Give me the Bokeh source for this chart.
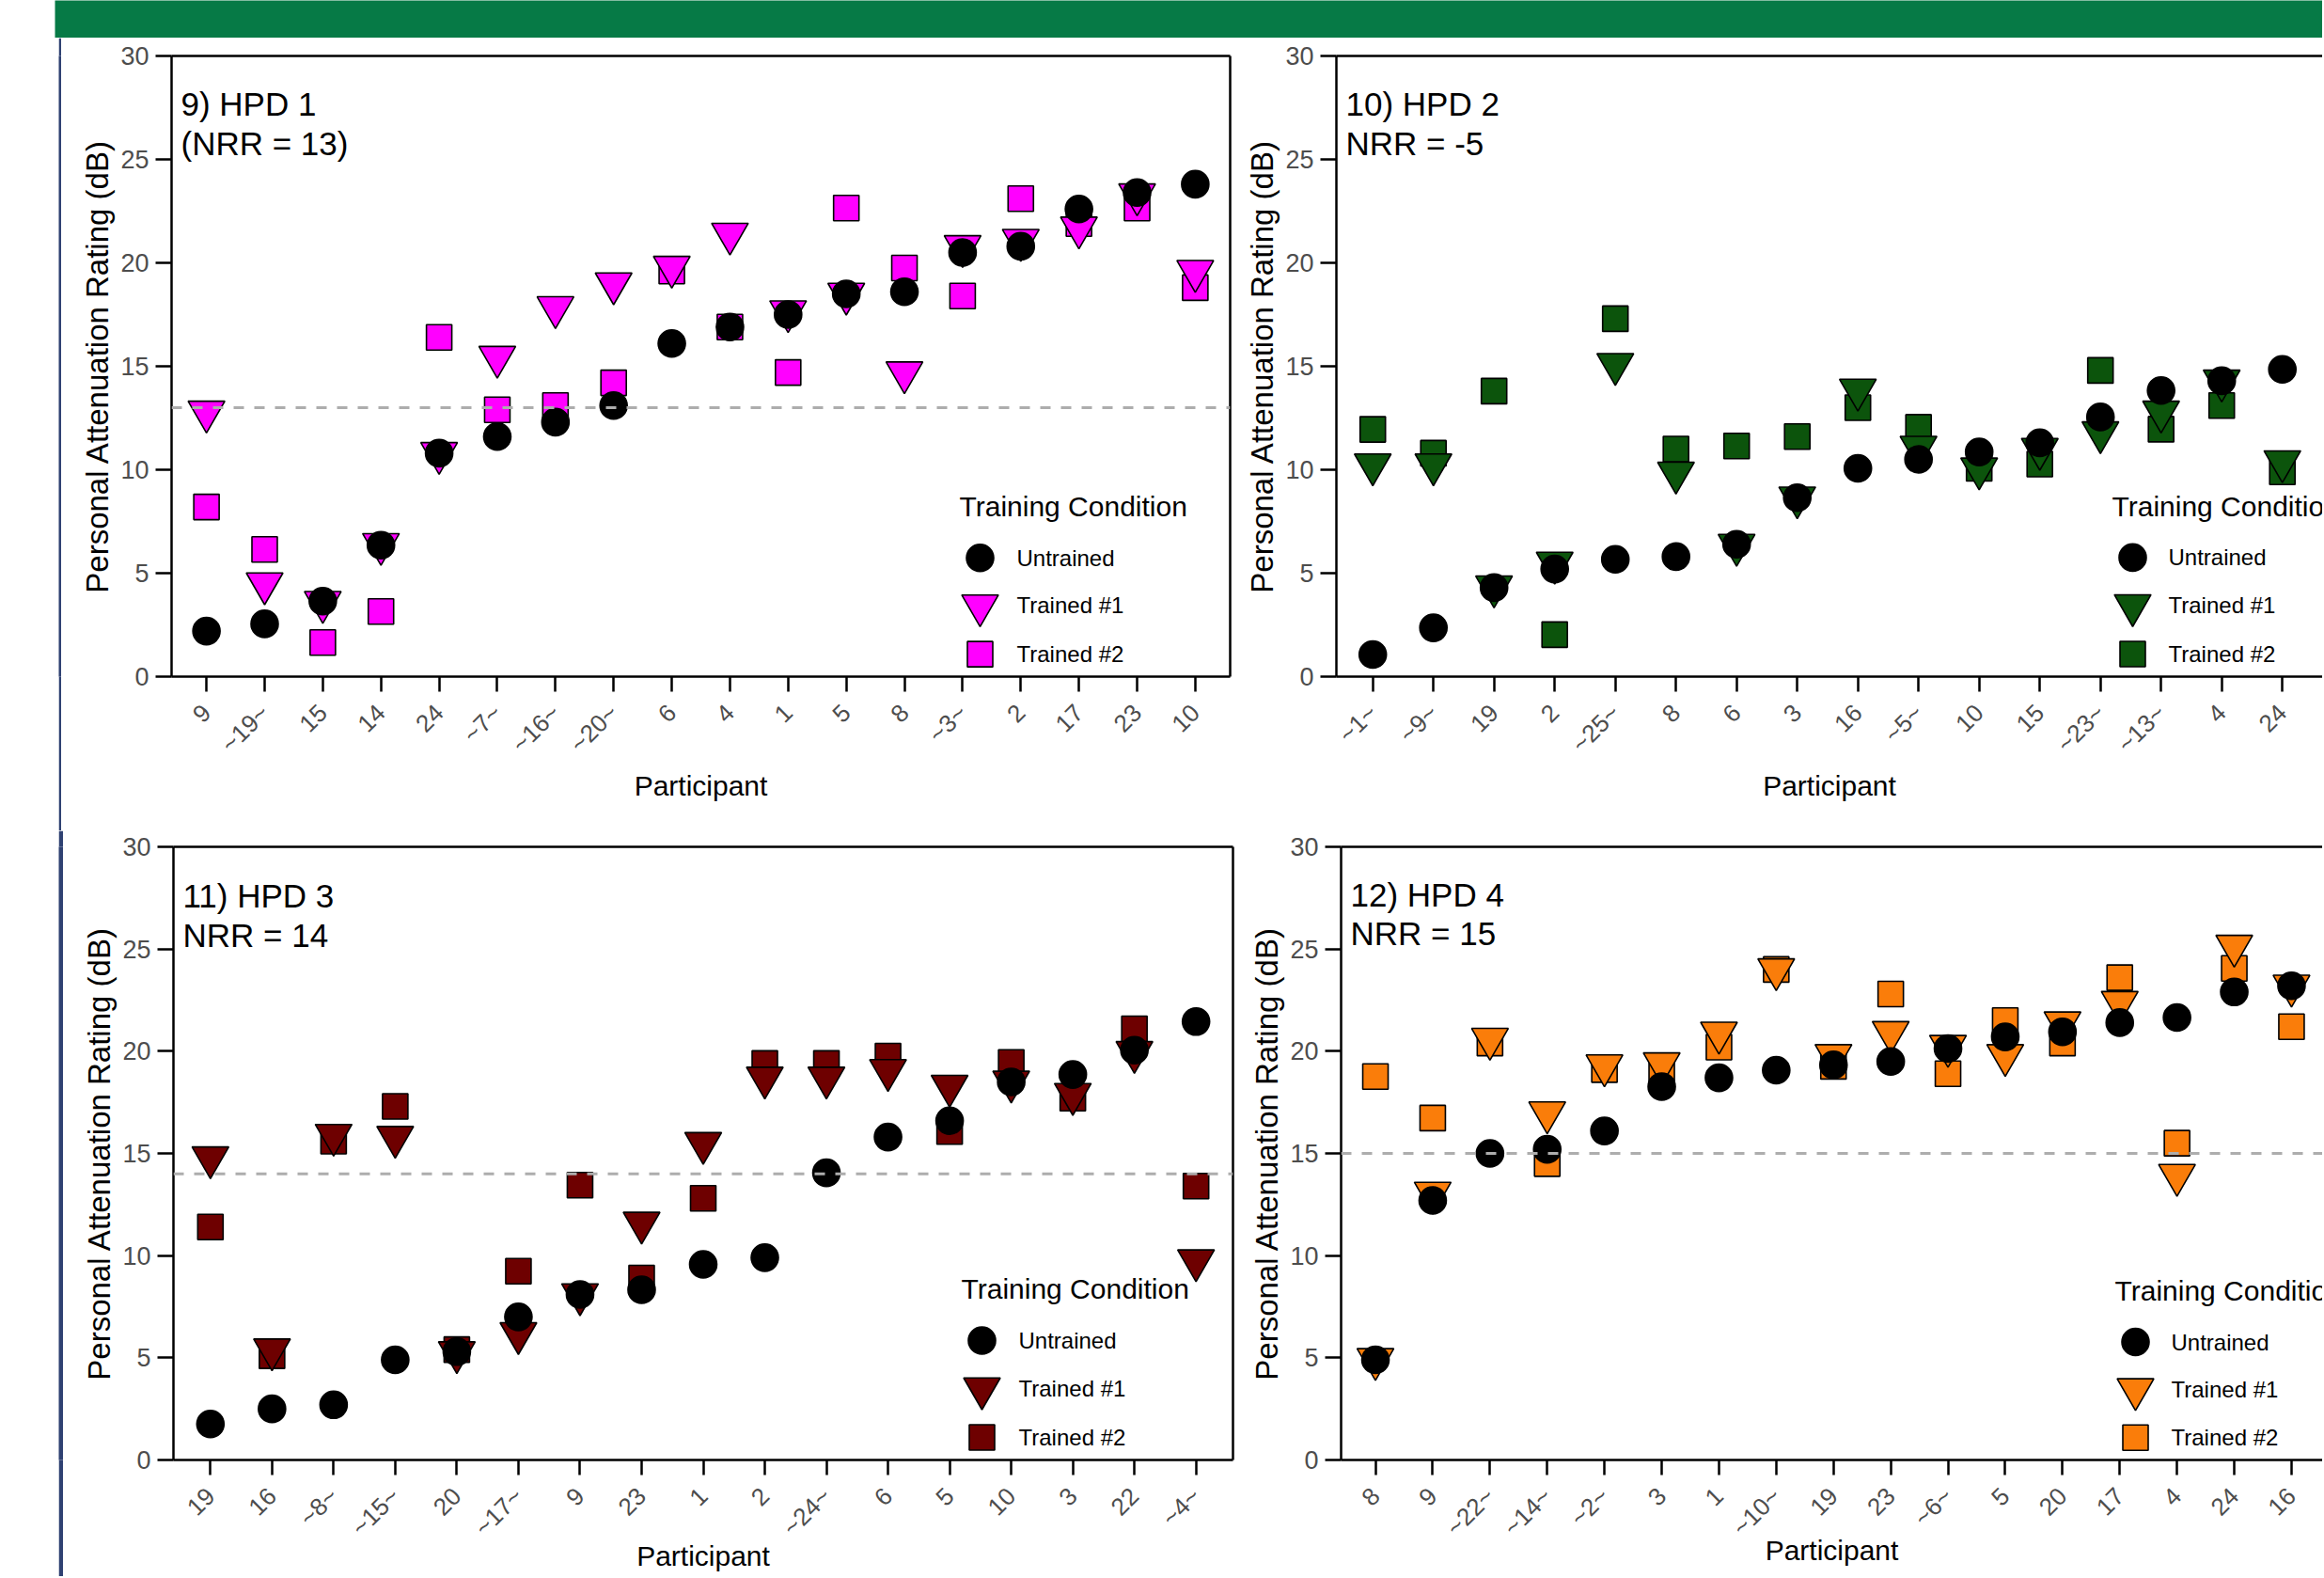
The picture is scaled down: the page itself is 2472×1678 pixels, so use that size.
import math
from bokeh.plotting import figure
from bokeh.models import Range1d, FixedTicker, LinearAxis, Span, Label, Spacer
from bokeh.layouts import row, column
from bokeh.embed import file_html
from bokeh.resources import INLINE

# ---------------- data ----------------
y_ticks = [0, 5, 10, 15, 20, 25, 30]
legend_title = "Training Condition"
legend_labels = ["Untrained", "Trained #1", "Trained #2"]
x_title = "Participant"
y_title = "Personal Attenuation Rating (dB)"

hpd1_participants = ["9", "~19~", "15", "14", "24", "~7~", "~16~", "~20~", "6", "4",
                     "1", "5", "8", "~3~", "2", "17", "23", "10"]
hpd1_untrained = [2.2, 2.55, 3.65, 6.35, 10.8, 11.6, 12.3, 13.1, 16.1, 16.9,
                  17.5, 18.5, 18.6, 20.5, 20.8, 22.6, 23.4, 23.8]
hpd1_trained1 = [12.8, 4.5, 3.6, 6.4, 10.8, 15.45, 17.85, 19.0, 19.8, 21.4,
                 17.65, 18.5, 14.7, 20.8, 21.1, 21.7, 23.3, 19.6]
hpd1_trained2 = [8.2, 6.15, 1.65, 3.15, 16.4, 12.9, 13.1, 14.2, 19.6, 16.9,
                 14.7, 22.65, 19.75, 18.4, 23.1, 21.9, 22.65, 18.8]

hpd2_participants = ["~1~", "~9~", "19", "2", "~25~", "8", "6", "3", "16", "~5~",
                     "10", "15", "~23~", "~13~", "4", "24"]
hpd2_untrained = [1.07, 2.36, 4.3, 5.2, 5.67, 5.8, 6.4, 8.65, 10.07, 10.5,
                  10.86, 11.3, 12.55, 13.83, 14.3, 14.85]
hpd2_trained1 = [10.25, 10.25, 4.35, 5.5, 15.1, 9.85, 6.36, 8.65, 13.86, 11.1,
                 10.05, 11.0, 11.8, 12.8, 14.3, 10.4]
hpd2_trained2 = [11.95, 10.8, 13.8, 2.03, 17.3, 11.0, 11.15, 11.6, 13.0, 12.05,
                 10.07, 10.27, 14.8, 11.96, 13.1, 9.9]

hpd3_participants = ["19", "16", "~8~", "~15~", "20", "~17~", "9", "23", "1", "2",
                     "~24~", "6", "5", "10", "3", "22", "~4~"]
hpd3_untrained = [1.76, 2.5, 2.7, 4.9, 5.3, 7.0, 8.1, 8.33, 9.57, 9.9,
                  14.05, 15.8, 16.6, 18.5, 18.86, 20.05, 21.45]
hpd3_trained1 = [14.8, 5.4, 15.9, 15.8, 5.26, 6.2, 8.1, 11.6, 15.5, 18.7,
                 18.7, 19.07, 18.3, 18.5, 17.9, 19.95, 9.76]
hpd3_trained2 = [11.4, 5.1, 15.6, 17.3, 5.4, 9.24, 13.45, 8.9, 12.8, 19.4,
                 19.4, 19.76, 16.07, 19.45, 17.7, 21.1, 13.4]

hpd4_participants = ["8", "9", "~22~", "~14~", "~2~", "3", "1", "~10~", "19", "23",
                     "~6~", "5", "20", "17", "4", "24", "16"]
hpd4_untrained = [4.9, 12.7, 15.0, 15.2, 16.1, 18.27, 18.7, 19.07, 19.33, 19.5,
                  20.13, 20.7, 20.95, 21.4, 21.65, 22.9, 23.2]
hpd4_trained1 = [4.93, 13.07, 20.6, 17.0, 19.3, 19.4, 20.9, 24.0, 19.8, 20.93,
                 20.25, 19.8, 21.4, 22.4, 13.94, 25.15, 23.2]
hpd4_trained2 = [18.76, 16.73, 20.4, 14.5, 19.1, 18.8, 20.2, 24.0, 19.26, 22.8,
                 18.9, 21.5, 20.4, 23.6, 15.5, 24.05, 21.2]

panel_titles = ["9) HPD 1", "10) HPD 2", "11) HPD 3", "12) HPD 4"]
panel_nrr_texts = ["(NRR = 13)", "NRR = -5", "NRR = 14", "NRR = 15"]
panel_nrr = [13, -5, 14, 15]

# ---------------- styles ----------------
FONT = "Liberation Sans"
TICK_GRAY = "#4d4d4d"
GREEN_BAND = "#067a46"
BLUE_LINE = "#2f4172"
panel_colors = ["#ff00ff", "#0c540c", "#6e0000", "#fa7d0a"]

# layout per panel (figure size, borders, x-range end, legend offsets, x-title standoff)
layouts = [
    dict(w=1253, h=843, mbl=117, mbr=10, mbt=19, mbb=160, x_end=18.6, right=True,
         lg=(838, 860, 899), xls=-1),
    dict(w=1152, h=843, mbl=103, mbr=0, mbt=17, mbb=164, x_end=0.4 + 1049 / 64.5, right=False,
         lg=(825, 847, 885), xls=-1),
    dict(w=1255, h=793, mbl=117, mbr=11, mbt=17, mbb=124, x_end=17.6, right=True,
         lg=(838, 860, 899), xls=-15),
    dict(w=1148, h=793, mbl=104, mbr=0, mbt=13, mbb=120, x_end=0.4 + 1044 / 60.9, right=False,
         lg=(823, 845, 883), xls=-21),
]


def border_axis():
    return LinearAxis(ticker=FixedTicker(ticks=[]), axis_line_width=2.5, axis_line_color="black",
                      major_tick_line_color=None, minor_tick_line_color=None,
                      major_label_text_font_size="0px", major_label_standoff=0)


def make_panel(participants, untrained, trained1, trained2, color, title, nrr_text, nrr, lay):
    n = len(participants)
    xs = list(range(1, n + 1))
    fw = lay["w"] - lay["mbl"] - lay["mbr"]
    fh = lay["h"] - lay["mbt"] - lay["mbb"]
    x0, x1 = 0.4, lay["x_end"]
    xpp = (x1 - x0) / fw
    ypp = 30.0 / fh

    p = figure(width=lay["w"], height=lay["h"], x_range=Range1d(x0, x1), y_range=Range1d(0, 30),
               toolbar_location=None, output_backend="svg",
               min_border_left=lay["mbl"], min_border_right=lay["mbr"],
               min_border_top=lay["mbt"], min_border_bottom=lay["mbb"])
    p.outline_line_color = None
    p.xgrid.visible = False
    p.ygrid.visible = False

    xa = p.xaxis[0]
    xa.ticker = FixedTicker(ticks=xs)
    xa.major_label_overrides = {i: lab for i, lab in zip(xs, participants)}
    xa.major_label_orientation = math.pi / 4
    xa.major_label_text_font = FONT
    xa.major_label_text_font_size = "26px"
    xa.major_label_text_color = TICK_GRAY
    xa.major_label_standoff = 18
    xa.major_tick_out = 16
    xa.major_tick_in = 0
    xa.major_tick_line_width = 2.5
    xa.major_tick_line_color = "black"
    xa.minor_tick_line_color = None
    xa.axis_line_width = 2.5
    xa.axis_line_color = "black"
    xa.axis_label = x_title
    xa.axis_label_text_font = FONT
    xa.axis_label_text_font_size = "30px"
    xa.axis_label_text_font_style = "normal"
    xa.axis_label_text_color = "black"
    xa.axis_label_standoff = lay["xls"]

    ya = p.yaxis[0]
    ya.ticker = FixedTicker(ticks=y_ticks)
    ya.major_label_text_font = FONT
    ya.major_label_text_font_size = "27px"
    ya.major_label_text_color = TICK_GRAY
    ya.major_label_standoff = 7
    ya.major_tick_out = 17
    ya.major_tick_in = 0
    ya.major_tick_line_width = 2.5
    ya.major_tick_line_color = "black"
    ya.minor_tick_line_color = None
    ya.axis_line_width = 2.5
    ya.axis_line_color = "black"
    ya.axis_label = y_title
    ya.axis_label_text_font = FONT
    ya.axis_label_text_font_size = "33px"
    ya.axis_label_text_font_style = "normal"
    ya.axis_label_text_color = "black"
    ya.axis_label_standoff = 3

    p.add_layout(border_axis(), "above")
    if lay["right"]:
        p.add_layout(border_axis(), "right")

    # points: squares, then triangles, then circles on top
    p.scatter(xs, trained2, marker="square", size=27, fill_color=color,
              line_color="black", line_width=1.6)
    p.scatter(xs, trained1, marker="inverted_triangle", size=39, fill_color=color,
              line_color="black", line_width=1.6)
    p.scatter(xs, untrained, marker="circle", size=29, fill_color="black",
              line_color="black", line_width=1.6)

    if 0 <= nrr <= 30:
        p.add_layout(Span(location=nrr, dimension="width", line_color="#adadad",
                          line_width=3, line_dash="11 11"))

    # panel title (text centred vertically on the given position)
    p.add_layout(Label(x=x0 + 10 * xpp, y=30 - 51.5 * ypp, text=title, text_font=FONT,
                       text_font_size="35px", text_color="black", text_baseline="middle"))
    p.add_layout(Label(x=x0 + 10 * xpp, y=30 - 93.5 * ypp, text=nrr_text, text_font=FONT,
                       text_font_size="35px", text_color="black", text_baseline="middle"))

    # legend (drawn by hand so the keys keep the plotted marker sizes)
    dx_t, dx_m, dx_l = lay["lg"]
    p.add_layout(Label(x=x0 + dx_t * xpp, y=182 * ypp, text=legend_title, text_font=FONT,
                       text_font_size="30px", text_color="black", text_baseline="middle"))
    rows_px = [127, 76, 24]
    kx = x0 + dx_m * xpp
    p.scatter([kx], [rows_px[0] * ypp], marker="circle", size=29, fill_color="black",
              line_color="black", line_width=1.6)
    p.scatter([kx], [rows_px[1] * ypp], marker="inverted_triangle", size=39, fill_color=color,
              line_color="black", line_width=1.6)
    p.scatter([kx], [rows_px[2] * ypp], marker="square", size=27, fill_color=color,
              line_color="black", line_width=1.6)
    for lab, rp in zip(legend_labels, rows_px):
        p.add_layout(Label(x=x0 + dx_l * xpp, y=rp * ypp, text=lab, text_font=FONT,
                           text_font_size="24px", text_color="black", text_baseline="middle"))
    return p


def filler(w, h, color):
    f = figure(width=w, height=h, toolbar_location=None, output_backend="svg", min_border=0,
               x_axis_location=None, y_axis_location=None)
    f.outline_line_color = None
    f.background_fill_color = color
    f.border_fill_color = color
    f.grid.visible = False
    return f


data = [
    (hpd1_participants, hpd1_untrained, hpd1_trained1, hpd1_trained2),
    (hpd2_participants, hpd2_untrained, hpd2_trained1, hpd2_trained2),
    (hpd3_participants, hpd3_untrained, hpd3_trained1, hpd3_trained2),
    (hpd4_participants, hpd4_untrained, hpd4_trained1, hpd4_trained2),
]
panels = []
for i, (parts, u, t1, t2) in enumerate(data):
    panels.append(make_panel(parts, u, t1, t2, panel_colors[i], panel_titles[i],
                             panel_nrr_texts[i], panel_nrr[i], layouts[i]))

band = row(Spacer(width=58, height=40), filler(2412, 40, GREEN_BAND))
top = row(Spacer(width=62, height=843), filler(3, 843, BLUE_LINE), panels[0], panels[1])
bottom = row(Spacer(width=62, height=793), filler(5, 793, BLUE_LINE), panels[2], panels[3])
page = column(band, top, bottom)

open("out.html", "w").write(file_html(page, INLINE))
